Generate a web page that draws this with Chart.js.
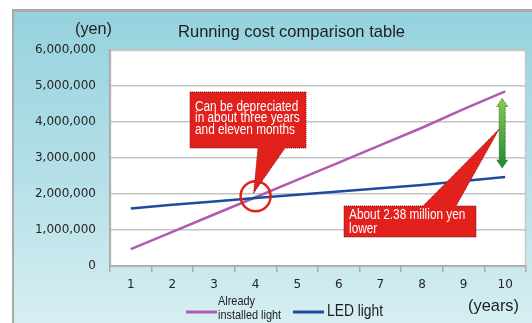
<!DOCTYPE html>
<html>
<head>
<meta charset="utf-8">
<script src="https://cdn.jsdelivr.net/npm/chart.js@4"></script>
<style>
  html, body { margin: 0; padding: 0; background: #fff; }
  canvas { display: block; }
</style>
</head>
<body>
<canvas id="costChart" width="532" height="323"></canvas>
<script>
const years = ['1', '2', '3', '4', '5', '6', '7', '8', '9', '10'];
const installedCost = [470000, 950000, 1430000, 1910000, 2390000, 2870000, 3360000, 3840000, 4360000, 4850000];
const ledCost = [1600000, 1700000, 1790000, 1890000, 1980000, 2070000, 2160000, 2250000, 2360000, 2470000];
const yMax = 6000000;
const yStep = 1000000;

const PURPLE = '#b25aae';
const BLUE = '#1d4c9e';
const RED = '#e2211c';

// draw text squeezed horizontally (the original uses a narrow face)
function squeeze(ctx, text, x, y, sx) {
  ctx.save();
  ctx.translate(x, y);
  ctx.scale(sx, 1);
  ctx.fillText(text, 0, 0);
  ctx.restore();
}

function fitWidth(ctx, text, x, y, w) {
  const m = ctx.measureText(text).width;
  squeeze(ctx, text, x, y, w / m);
}

function callout(ctx, box, base, tip) {
  ctx.beginPath();
  ctx.moveTo(box.l, box.t);
  if (base.side === 'top') {
    ctx.lineTo(base.a, box.t);
    ctx.lineTo(tip.x, tip.y);
    ctx.lineTo(base.b, box.t);
  }
  ctx.lineTo(box.r, box.t);
  ctx.lineTo(box.r, box.b);
  if (base.side === 'bottom') {
    ctx.lineTo(base.b, box.b);
    ctx.lineTo(tip.x, tip.y);
    ctx.lineTo(base.a, box.b);
  }
  ctx.lineTo(box.l, box.b);
  ctx.closePath();
  ctx.fillStyle = RED;
  ctx.fill();
  ctx.setLineDash([1, 1]);
  ctx.strokeStyle = '#7d1512';
  ctx.lineWidth = 1;
  ctx.stroke();
  ctx.setLineDash([]);
}

const backdrop = {
  id: 'backdrop',
  beforeDraw(chart) {
    const { ctx, chartArea, width, height } = chart;
    ctx.save();
    ctx.fillStyle = '#fff';
    ctx.fillRect(0, 0, width, height);
    // grey frame line
    ctx.fillStyle = '#aaaaaa';
    ctx.fillRect(12, 9, width - 12, 3);
    ctx.fillRect(12, 9, 2, height - 9);
    // blue panel
    const g = ctx.createLinearGradient(0, 12, 0, height);
    g.addColorStop(0, '#95d2de');
    g.addColorStop(0.5, '#b3dfe7');
    g.addColorStop(1, '#d6eef2');
    ctx.fillStyle = g;
    ctx.fillRect(14, 12, width - 14, height - 12);
    // plot area
    ctx.fillStyle = '#fff';
    ctx.fillRect(chartArea.left, chartArea.top, chartArea.right - chartArea.left, chartArea.bottom - chartArea.top);
    ctx.strokeStyle = '#c8c8c8';
    ctx.lineWidth = 1.5;
    ctx.strokeRect(chartArea.left + 0.5, chartArea.top + 0.5, chartArea.right - chartArea.left - 1, chartArea.bottom - chartArea.top);
    ctx.restore();
  },
};

const overlay = {
  id: 'overlay',
  afterDraw(chart) {
    const { ctx, scales } = chart;
    const x = scales.x;
    const y = scales.y;
    ctx.save();
    ctx.textBaseline = 'middle';

    // title and units
    ctx.fillStyle = '#1e1e1e';
    ctx.font = '17px "Liberation Sans", Arial, sans-serif';
    fitWidth(ctx, 'Running cost comparison table', 178, 32, 227);
    ctx.font = '16px "Liberation Sans", Arial, sans-serif';
    fitWidth(ctx, '(yen)', 75, 30, 37);
    ctx.font = '17px "Liberation Sans", Arial, sans-serif';
    fitWidth(ctx, '(years)', 468, 306, 51);

    // legend
    ctx.lineWidth = 3;
    ctx.strokeStyle = PURPLE;
    ctx.beginPath();
    ctx.moveTo(186, 312);
    ctx.lineTo(217, 312);
    ctx.stroke();
    ctx.strokeStyle = BLUE;
    ctx.beginPath();
    ctx.moveTo(293, 312);
    ctx.lineTo(324, 312);
    ctx.stroke();
    ctx.fillStyle = '#1e1e1e';
    ctx.font = '13px "Liberation Sans", Arial, sans-serif';
    squeeze(ctx, 'Already', 218, 301, 0.84);
    squeeze(ctx, 'installed light', 218, 315, 0.84);
    ctx.font = '17px "Liberation Sans", Arial, sans-serif';
    fitWidth(ctx, 'LED light', 327, 311, 56);

    // crossing point circle
    const cx = x.getPixelForValue(3);
    const cy = y.getPixelForValue(1940000);
    ctx.beginPath();
    ctx.arc(cx, cy, 15, 0, Math.PI * 2);
    ctx.strokeStyle = RED;
    ctx.lineWidth = 2.5;
    ctx.stroke();

    // callout: depreciation
    callout(ctx, { l: 190, t: 92, r: 306, b: 148 }, { side: 'bottom', a: 258, b: 285 }, { x: cx - 2, y: cy - 3 });
    ctx.fillStyle = '#fff';
    ctx.font = '14px "Liberation Sans", Arial, sans-serif';
    squeeze(ctx, 'Can be depreciated', 195, 107, 0.845);
    squeeze(ctx, 'in about three years', 195, 118.5, 0.845);
    squeeze(ctx, 'and eleven months', 195, 130, 0.845);

    // difference arrow at year 10
    const ax = x.getPixelForValue(9) - 3;
    const top = y.getPixelForValue(installedCost[9]) + 7;
    const bot = y.getPixelForValue(ledCost[9]) - 9;
    const hw = 5.5, sw = 3, hl = 8;
    const ag = ctx.createLinearGradient(0, top, 0, bot);
    ag.addColorStop(0, '#8dca4f');
    ag.addColorStop(1, '#198a3a');
    ctx.beginPath();
    ctx.moveTo(ax, top);
    ctx.lineTo(ax + hw, top + hl);
    ctx.lineTo(ax + sw, top + hl);
    ctx.lineTo(ax + sw, bot - hl);
    ctx.lineTo(ax + hw, bot - hl);
    ctx.lineTo(ax, bot);
    ctx.lineTo(ax - hw, bot - hl);
    ctx.lineTo(ax - sw, bot - hl);
    ctx.lineTo(ax - sw, top + hl);
    ctx.lineTo(ax - hw, top + hl);
    ctx.closePath();
    ctx.fillStyle = ag;
    ctx.fill();
    ctx.setLineDash([1, 1]);
    ctx.strokeStyle = '#2f5e2a';
    ctx.lineWidth = 1;
    ctx.stroke();
    ctx.setLineDash([]);

    // callout: difference
    callout(ctx, { l: 344, t: 206, r: 476, b: 237 }, { side: 'top', a: 423, b: 456 }, { x: ax - 3, y: 129 });
    ctx.fillStyle = '#fff';
    ctx.font = '14px "Liberation Sans", Arial, sans-serif';
    squeeze(ctx, 'About 2.38 million yen', 349, 215, 0.845);
    squeeze(ctx, 'lower', 349, 229, 0.845);

    ctx.restore();
  },
};

new Chart(document.getElementById('costChart'), {
  type: 'line',
  data: {
    labels: years,
    datasets: [
      {
        label: 'Already installed light',
        data: installedCost,
        borderColor: PURPLE,
        borderWidth: 2.5,
        order: 1,
      },
      {
        label: 'LED light',
        data: ledCost,
        borderColor: BLUE,
        borderWidth: 2.5,
        order: 0,
      },
    ],
  },
  options: {
    responsive: false,
    animation: false,
    devicePixelRatio: 1,
    layout: {
      padding: { top: 50, right: 6, left: 0, bottom: 0 },
    },
    elements: {
      point: { radius: 0 },
      line: { tension: 0 },
    },
    plugins: {
      legend: { display: false },
      title: { display: false },
      tooltip: { enabled: false },
    },
    scales: {
      x: {
        offset: true,
        grid: {
          offset: true,
          drawOnChartArea: false,
          tickLength: 6,
          color: '#a8a8a8',
          lineWidth: 1.5,
        },
        border: { color: '#a8a8a8', width: 1.5 },
        ticks: {
          color: '#262626',
          padding: 6,
          font: { family: 'DejaVu Sans', size: 12 },
        },
        afterFit(scale) {
          scale.height = 57;
        },
      },
      y: {
        min: 0,
        max: yMax,
        ticks: {
          stepSize: yStep,
          color: '#262626',
          padding: 14,
          font: { family: 'DejaVu Sans', size: 12 },
          callback: (v) => v.toLocaleString('en-US'),
        },
        grid: {
          color: '#c4c4c4',
          lineWidth: 1.5,
          drawTicks: false,
        },
        border: { color: '#a8a8a8', width: 1.5 },
        afterFit(scale) {
          scale.width = 110;
        },
      },
    },
  },
  plugins: [backdrop, overlay],
});
</script>
</body>
</html>
